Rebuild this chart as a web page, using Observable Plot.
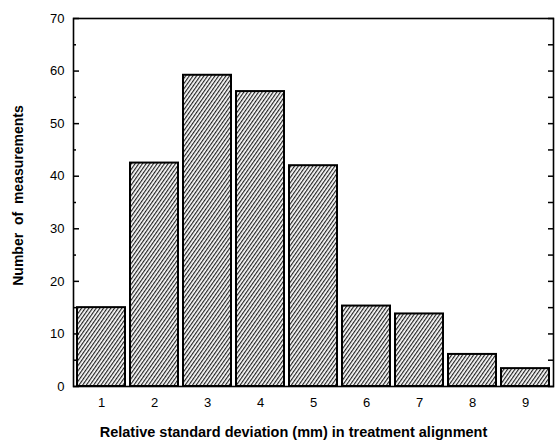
<!DOCTYPE html>
<html>
<head>
<meta charset="utf-8">
<script src="https://cdn.jsdelivr.net/npm/d3@7"></script>
<script src="https://cdn.jsdelivr.net/npm/@observablehq/plot@0.6"></script>
<style>
  html, body { margin: 0; padding: 0; background: #fff; }
  #chart { width: 555px; height: 442px; }
</style>
</head>
<body>
<div id="chart"></div>
<script>
const categories = ["1", "2", "3", "4", "5", "6", "7", "8", "9"];
const counts = [15, 42.5, 59.2, 56.1, 42, 15.3, 13.8, 6.1, 3.4];
const yMajorTicks = [0, 10, 20, 30, 40, 50, 60, 70];
const yMinorTicks = [5, 15, 25, 35, 45, 55, 65];
const xTitle = "Relative standard deviation (mm) in treatment alignment";
const yTitle = "Number  of  measurements";

const data = categories.map((c, i) => ({cat: c, value: counts[i]}));
const font = "'Liberation Sans', Arial, Helvetica, sans-serif";

const chart = Plot.plot({
  width: 555,
  height: 442,
  marginLeft: 73,
  marginRight: 2,
  marginTop: 18,
  marginBottom: 56,
  style: {fontFamily: font, fontSize: "13px", background: "#fff", color: "#000"},
  x: {domain: categories, paddingInner: 0.1, paddingOuter: 0.03, label: null},
  y: {domain: [0, 70], label: null},
  marks: [
    Plot.barY(data, {x: "cat", y: "value", fill: "url(#hatch)", stroke: "#000", strokeWidth: 2}),
    Plot.frame({stroke: "#000", strokeWidth: 1.6}),
    Plot.axisY({ticks: yMajorTicks, tickSize: 0, tickPadding: 9, tickFormat: d => String(d), fontSize: 13}),
    Plot.axisY({ticks: yMajorTicks, tickSize: -6, tickFormat: () => "", strokeWidth: 1.5}),
    Plot.axisY({ticks: yMinorTicks, tickSize: -3, tickFormat: () => "", strokeWidth: 1.5}),
    Plot.axisY({anchor: "right", ticks: yMinorTicks.concat(yMajorTicks), tickSize: -6, tickFormat: () => "", strokeWidth: 1.5}),
    Plot.axisX({tickSize: 0, tickPadding: 11, fontSize: 13}),
    Plot.text([xTitle], {frameAnchor: "bottom", dy: 50, dx: -20, fontWeight: "bold", fontSize: 14.5, fill: "#000", style: {letterSpacing: "0.5px"}}),
    Plot.text([yTitle], {frameAnchor: "left", textAnchor: "middle", dx: -55, dy: -7, rotate: -90, fontWeight: "bold", fontSize: 14, fill: "#000", style: {letterSpacing: "2px", whiteSpace: "pre"}})
  ]
});

const ns = "http://www.w3.org/2000/svg";
const defs = document.createElementNS(ns, "defs");
const pat = document.createElementNS(ns, "pattern");
pat.setAttribute("id", "hatch");
pat.setAttribute("patternUnits", "userSpaceOnUse");
pat.setAttribute("width", "3");
pat.setAttribute("height", "3");
pat.setAttribute("patternTransform", "rotate(35)");
const bg = document.createElementNS(ns, "rect");
bg.setAttribute("width", "3"); bg.setAttribute("height", "3"); bg.setAttribute("fill", "#fff");
const ln = document.createElementNS(ns, "line");
ln.setAttribute("x1", "0.6"); ln.setAttribute("y1", "0");
ln.setAttribute("x2", "0.6"); ln.setAttribute("y2", "3");
ln.setAttribute("stroke", "#222"); ln.setAttribute("stroke-width", "1.2");
pat.appendChild(bg); pat.appendChild(ln); defs.appendChild(pat);
chart.insertBefore(defs, chart.firstChild);

document.getElementById("chart").appendChild(chart);
</script>
</body>
</html>
